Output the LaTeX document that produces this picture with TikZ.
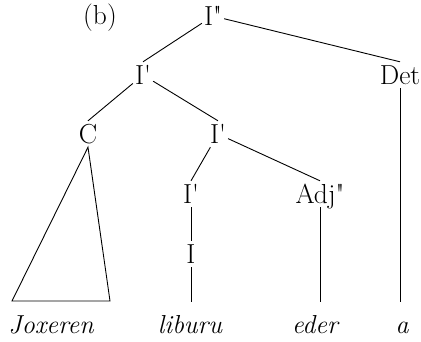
\documentclass[tikz,border=0pt]{standalone}
\usepackage{tikz}
\usetikzlibrary{positioning}

\begin{document}
\begin{tikzpicture}[
  x=1pt, y=-1pt,
  cat/.style={anchor=base, font=\fontsize{27.5}{31}\selectfont, text height=20pt, text depth=2pt, inner sep=2pt},
  word/.style={anchor=base, font=\fontsize{26}{30}\selectfont\itshape, text height=29pt, inner sep=2pt},
  branch/.style={line width=0.9pt}
]
\useasboundingbox (0,0) rectangle (421,341);
\node[cat] (lab) at (100,24) {(b)};
\node[cat] (top) at (213,25) {I\textquotedbl};
\node[cat] (ia)  at (143,84) {I\textquotesingle};
\node[cat] (det) at (400,84) {Det};
\node[cat] (c)   at (88,143) {C};
\node[cat] (ib)  at (218,143) {I\textquotesingle};
\node[cat] (ic)  at (191,203) {I\textquotesingle};
\node[cat] (adj) at (320,203) {Adj\textquotedbl};
\node[cat] (i)   at (191,263) {I};
\node[word] (joxeren) at (51,333)  {Joxeren};
\node[word] (liburu)  at (190,333) {liburu};
\node[word] (eder)    at (315,333) {eder};
\node[word] (a)       at (402,333) {a};
\coordinate (cl) at (12,301);
\coordinate (cr) at (110,301);

\draw[branch] (top) -- (ia.north);
\draw[branch] (top) -- (det.north);
\draw[branch] (ia) -- (c.north);
\draw[branch] (ia) -- (ib.north);
\draw[branch] (ib) -- (ic.north);
\draw[branch] (ib) -- (adj.north);
\draw[branch] (c.south) -- (cl) -- (cr) -- cycle;
\draw[branch] (ic) -- (i);
\draw[branch] (i) -- (i |- liburu.north);
\draw[branch] (adj) -- (adj |- eder.north);
\draw[branch] (det) -- (det |- a.north);
\end{tikzpicture}
\end{document}
